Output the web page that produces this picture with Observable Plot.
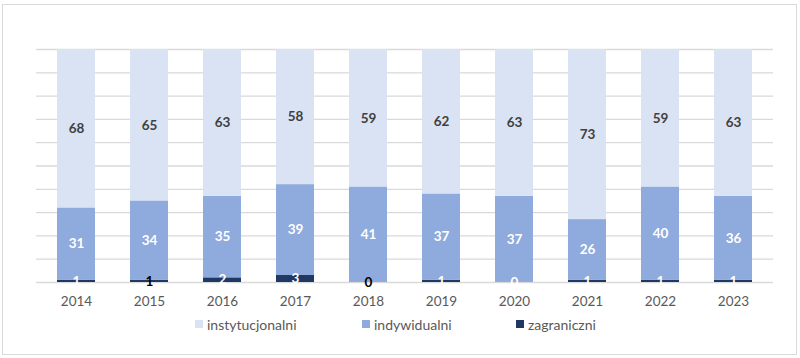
<!DOCTYPE html>
<html>
<head>
<meta charset="utf-8">
<script src="https://cdn.jsdelivr.net/npm/d3@7"></script>
<script src="https://cdn.jsdelivr.net/npm/@observablehq/plot@0.6"></script>
<style>
  body { margin: 0; background: #fff; font-family: Lato, "Open Sans", sans-serif; }
  #wrap { position: relative; width: 800px; height: 358px; overflow: hidden; }
  #frame { position: absolute; left: 2px; top: 4px; width: 795px; height: 351px; border: 1px solid #d9d9d9; box-sizing: border-box; }
  #chart { position: absolute; left: 0; top: 0; }
  #legend { position: absolute; top: 315px; left: 0; width: 800px; height: 18px; font-size: 14px; color: #595959; }
  .item { position: absolute; top: 0; height: 18px; display: flex; align-items: center; white-space: nowrap; }
  .sw { width: 8px; height: 8px; margin-right: 4px; }
</style>
</head>
<body>
<div id="wrap">
  <div id="frame"></div>
  <div id="chart"></div>
  <div id="legend"></div>
</div>
<script>
const years = ["2014","2015","2016","2017","2018","2019","2020","2021","2022","2023"];
const seriesNames = ["zagraniczni", "indywidualni", "instytucjonalni"];
const zagraniczni = [1, 1, 2, 3, 0, 1, 0, 1, 1, 1];
const indywidualni = [31, 34, 35, 39, 41, 37, 37, 26, 40, 36];
const instytucjonalni = [68, 65, 63, 58, 59, 62, 63, 73, 59, 63];
const seriesColors = ["#1f3864", "#8faadc", "#dae3f3"];
const legendOrder = ["instytucjonalni", "indywidualni", "zagraniczni"];

const valuesBySeries = { zagraniczni, indywidualni, instytucjonalni };
const data = [];
for (const s of seriesNames) {
  years.forEach((y, i) => data.push({ year: y, series: s, value: valuesBySeries[s][i] }));
}

function labelFill(d) {
  if (d.series === "instytucjonalni") return "#404040";
  if (d.series === "zagraniczni" && (d.year === "2015" || d.year === "2018")) return "#000";
  return "#fff";
}

const plot = Plot.plot({
  width: 800,
  height: 310,
  marginTop: 49,
  marginBottom: 28,
  marginLeft: 36,
  marginRight: 27,
  style: { fontFamily: "Lato, 'Open Sans', sans-serif", fontSize: "13px", background: "transparent" },
  x: { domain: years, paddingInner: 0.477, paddingOuter: 0.2385, label: null },
  y: { domain: [0, 100], axis: null },
  color: { domain: seriesNames, range: seriesColors },
  marks: [
    Plot.gridY(d3.range(0, 101, 10), { stroke: "#d9d9d9", strokeOpacity: 1, strokeWidth: 1.3 }),
    Plot.barY(data, { x: "year", y: "value", fill: "series", order: seriesNames }),
    Plot.text(data, Plot.stackY({
      x: "year", y: "value", order: seriesNames,
      text: d => String(d.value),
      fill: labelFill,
      fontWeight: "bold",
      fontSize: 13.5
    })),
    Plot.axisX({ tickSize: 0, tickPadding: 14, color: "#595959", fontSize: 13.5, label: null })
  ]
});
document.getElementById("chart").appendChild(plot);

const legend = document.getElementById("legend");
const lx = { instytucjonalni: 195, indywidualni: 362, zagraniczni: 516 };
for (const s of legendOrder) {
  const it = document.createElement("div");
  it.className = "item";
  it.style.left = lx[s] + "px";
  const sw = document.createElement("span");
  sw.className = "sw";
  sw.style.background = seriesColors[seriesNames.indexOf(s)];
  it.appendChild(sw);
  it.appendChild(document.createTextNode(s));
  legend.appendChild(it);
}
</script>
</body>
</html>
